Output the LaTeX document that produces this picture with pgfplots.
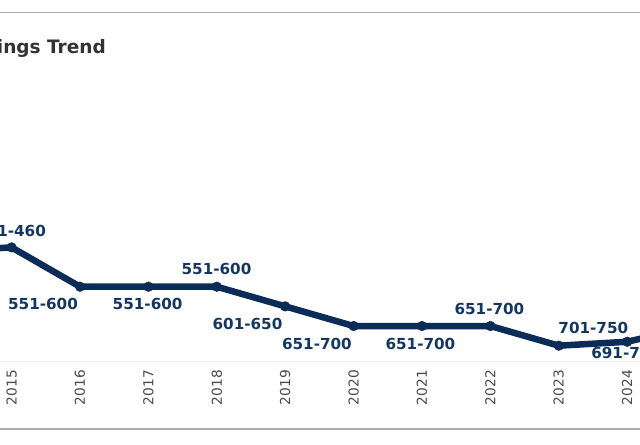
\documentclass[border=0pt]{standalone}
\usepackage{pgfplots}
\pgfplotsset{compat=1.18}
\usepackage{pgfplotstable}
\usepackage{fontspec}
\setmainfont{DejaVu Sans}
\definecolor{navy}{HTML}{0B2C56}
\definecolor{lblnavy}{HTML}{15375F}
\definecolor{titlegray}{HTML}{333333}
\definecolor{tickgray}{HTML}{4A4A4A}
\definecolor{bordergray}{HTML}{ABABAB}

\pgfplotstableread{
year rank
2014 -461
2015 -451
2016 -551
2017 -551
2018 -551
2019 -601
2020 -651
2021 -651
2022 -651
2023 -701
2024 -691
2025 -651
}\linedata

\pgfplotstableread{
year rank label dx dy
2015 -451 451-460 -0.6 16.4
2016 -551 551-600 -37 -17.3
2017 -551 551-600 -0.8 -17.3
2018 -551 551-600 -0.3 17.4
2019 -601 601-650 -37.7 -17.7
2020 -651 651-700 -36.7 -18
2021 -651 651-700 -1.6 -18
2022 -651 651-700 -1 16.7
2023 -701 701-750 34.5 18
2024 -691 691-700 -1 -11
}\labeldata

\begin{document}
\begin{tikzpicture}[x=1bp,y=1bp]
\path[use as bounding box] (0,0) rectangle (640,445);
\clip (0,0) rectangle (640,445);
\fill[white] (0,0) rectangle (640,445);
\draw[bordergray, line width=1.2bp] (-5,432.7) -- (645,432.7);
\draw[bordergray, line width=1.2bp] (-5,16) -- (645,16);
\node[anchor=base east, font=\fontsize{18.5bp}{22bp}\selectfont\bfseries, text=titlegray, inner sep=0pt] at (106,391) {Rankings Trend};
\begin{axis}[
  at={(-56.8bp,83.5bp)}, anchor=south west,
  scale only axis, width=752.4bp, height=134.15bp,
  xmin=2014, xmax=2025, ymin=-741.2, ymax=-400,
  enlargelimits=false,
  hide y axis,
  axis x line*=bottom,
  x axis line style={draw=black!7, line width=1bp, -},
  xtick={2014,...,2025},
  major tick length=0pt,
  /pgf/number format/assume math mode=true,
  /pgf/number format/1000 sep={},
  xticklabel style={yshift=-8.5bp, rotate=90, anchor=east, inner sep=0pt,
    font=\fontsize{13.7bp}{16bp}\selectfont, text=tickgray},
  clip=false,
]
\addplot[navy, line width=6.5bp, mark=*, mark size=4.8bp,
  mark options={solid, fill=navy, draw=navy, line width=0.5bp}]
  table[x=year, y=rank] {\linedata};
\addplot[draw=none, mark=none, nodes near coords, point meta=explicit symbolic,
  visualization depends on={\thisrow{dx}\as\lblx},
  visualization depends on={\thisrow{dy}\as\lbly},
  every node near coord/.append style={anchor=center, xshift=\lblx bp, yshift=\lbly bp,
    font=\fontsize{15.2bp}{18bp}\selectfont\bfseries, text=lblnavy, inner sep=0pt}]
  table[x=year, y=rank, meta=label] {\labeldata};
\end{axis}
\end{tikzpicture}
\end{document}
